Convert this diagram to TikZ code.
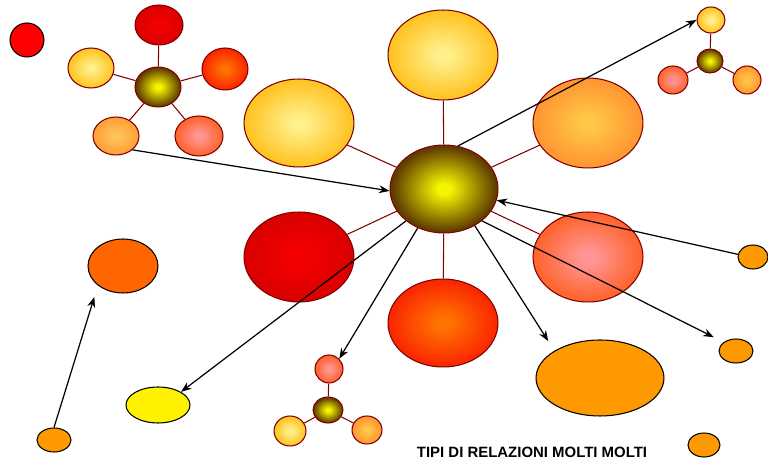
\documentclass[tikz,border=0pt]{standalone}
\usepackage{fontspec}
\setsansfont{Liberation Sans}
\usetikzlibrary{shapes.geometric,arrows.meta}
\definecolor{maroon}{RGB}{128,0,0}
\definecolor{hubin}{RGB}{245,245,0}
\definecolor{hubout}{RGB}{95,60,0}
\definecolor{yelin}{RGB}{255,240,140}
\definecolor{yelout}{RGB}{255,195,35}
\definecolor{orgin}{RGB}{255,200,70}
\definecolor{orgout}{RGB}{255,150,50}
\definecolor{redin}{RGB}{245,0,0}
\definecolor{redout}{RGB}{218,0,0}
\definecolor{rorin}{RGB}{255,115,0}
\definecolor{rorout}{RGB}{250,40,0}
\definecolor{salin}{RGB}{255,150,150}
\definecolor{salout}{RGB}{255,100,45}
\definecolor{ltoin}{RGB}{255,195,90}
\definecolor{ltoout}{RGB}{255,160,55}
\definecolor{flatorange}{RGB}{255,153,0}
\definecolor{deeporange}{RGB}{255,102,0}
\colorlet{glowin}{yellow}
\colorlet{glowout}{red}
\pgfdeclareradialshading[glowin,glowout]{glow}{\pgfpointorigin}{color(0bp)=(glowin); color(3bp)=(glowin); color(24bp)=(glowout); color(50bp)=(glowout)}
\begin{document}
\begin{tikzpicture}[x=0.02cm, y=-0.02cm,
  sz/.style 2 args={minimum width=#1*0.04cm, minimum height=#2*0.04cm},
  blob/.style={ellipse, draw=maroon, line width=0.6pt, inner sep=0pt},
  glow/.style 2 args={/utils/exec={\colorlet{glowin}{#1}\colorlet{glowout}{#2}}, shading=glow},
  flat/.style={ellipse, draw=black, line width=0.6pt, inner sep=0pt, fill=#1},
  link/.style={draw=maroon, line width=0.6pt},
  arr/.style={draw=black, line width=0.7pt, -{Stealth[length=6pt,width=4.5pt]}}]
\useasboundingbox (0,0) rectangle (768,462);
% central group
\node[blob, sz={54}{44}, glow={hubin}{hubout}] (hub) at (444,189){};
\node[blob, sz={55}{45}, glow={yelin}{yelout}] (s1) at (443,55){};
\node[blob, sz={55}{44}, glow={yelin}{yelout}] (s2) at (299,123){};
\node[blob, sz={55}{45}, glow={orgin}{orgout}] (s3) at (588,123){};
\node[blob, sz={55}{45}, glow={redin}{redout}] (s4) at (299,257){};
\node[blob, sz={55}{44}, glow={rorin}{rorout}] (s5) at (443,323){};
\node[blob, sz={55}{45}, glow={salin}{salout}] (s6) at (588,257){};
\draw[link](hub) -- (s1);
\draw[link](hub) -- (s2);
\draw[link](hub) -- (s3);
\draw[link](hub) -- (s4);
\draw[link](hub) -- (s5);
\draw[link](hub) -- (s6);
% top left group
\node[blob, sz={23}{20}, glow={hubin}{hubout}] (a0) at (158,87){};
\node[blob, sz={24}{20}, glow={redin}{redout}] (a1) at (159,25){};
\node[blob, sz={23}{20}, glow={yelin}{yelout}] (a2) at (91,68){};
\node[blob, sz={23}{21}, glow={rorin}{rorout}] (a3) at (225,69){};
\node[blob, sz={23}{19}, glow={ltoin}{ltoout}] (a4) at (116,136){};
\node[blob, sz={24}{20}, glow={salin}{salout}] (a5) at (199,136){};
\draw[link](a0) -- (a1);
\draw[link](a0) -- (a2);
\draw[link](a0) -- (a3);
\draw[link](a0) -- (a4);
\draw[link](a0) -- (a5);
% top right group
\node[blob, sz={13}{12}, glow={hubin}{hubout}] (b0) at (710,61){};
\node[blob, sz={14}{13}, glow={yelin}{yelout}] (b1) at (711,20){};
\node[blob, sz={15}{14}, glow={salin}{salout}] (b2) at (673,80){};
\node[blob, sz={14}{14}, glow={orgin}{orgout}] (b3) at (747,80){};
\draw[link](b0) -- (b1);
\draw[link](b0) -- (b2);
\draw[link](b0) -- (b3);
% bottom group
\node[blob, sz={15}{13}, glow={hubin}{hubout}] (c0) at (328,410){};
\node[blob, sz={14}{14}, glow={salin}{salout}] (c1) at (329,369){};
\node[blob, sz={16}{15}, glow={yelin}{yelout}] (c2) at (290,431){};
\node[blob, sz={15}{14}, glow={orgin}{orgout}] (c3) at (367,430){};
\draw[link](c0) -- (c1);
\draw[link](c0) -- (c2);
\draw[link](c0) -- (c3);
% single entities
\node[flat=red, sz={17}{17}] (p0) at (27,40){};
\node[flat=deeporange, sz={35}{27}] (p1) at (123,266){};
\node[flat=flatorange, sz={17}{12}] (p2) at (54,440){};
\node[flat=yellow, sz={32}{18}] (p3) at (158,405){};
\node[flat=flatorange, sz={64}{38}] (p4) at (600,378){};
\node[flat=flatorange, sz={15}{12}] (p5) at (753,257){};
\node[flat=flatorange, sz={17}{12}] (p6) at (736,351){};
\node[flat=flatorange, sz={16}{12}] (p7) at (704,445){};
% arrows
\draw[arr](a4.-40) -- (hub.182);
\draw[arr](hub.72) -- (b1.west);
\draw[arr](p5.170) -- (hub.-12);
\draw[arr, shorten >=0.22cm](hub.-40) -- (p6.north west);
\draw[arr, shorten >=0.23cm](hub.-50) -- (p4.north west);
\draw[arr](hub.-124) -- (c1.north east);
\draw[arr](hub.-140) -- (p3.north east);
\draw[arr, shorten >=0.24cm](p2.north) -- (p1.south west);
\node[font=\sffamily\bfseries\fontsize{8.5}{10}\selectfont, inner sep=0pt] (title) at (532,452){TIPI DI RELAZIONI MOLTI MOLTI};
\end{tikzpicture}
\end{document}
